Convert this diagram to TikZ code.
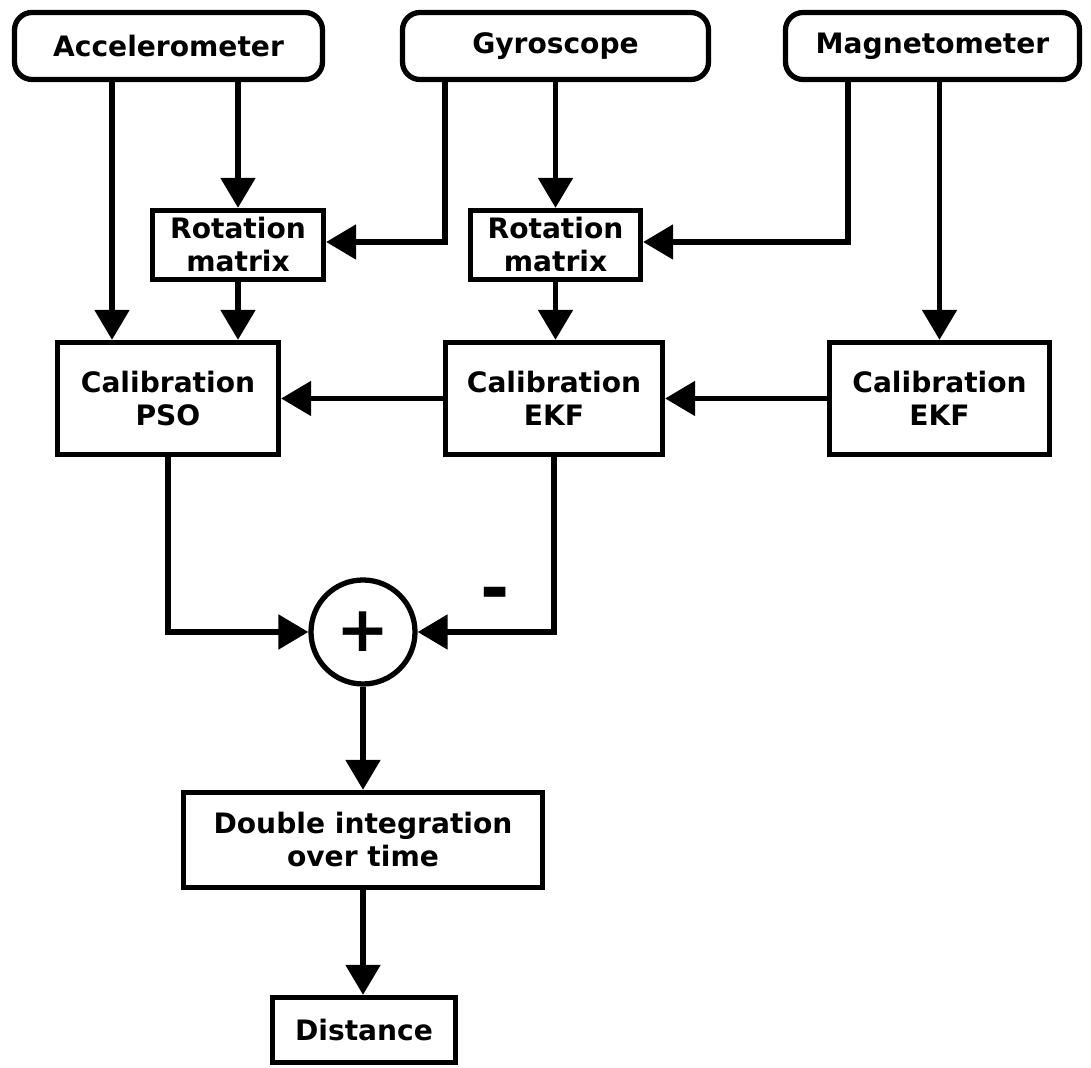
\documentclass[tikz,border=0pt]{standalone}
\usepackage{fontspec}
\setmainfont{DejaVu Sans}
\usetikzlibrary{positioning, arrows.meta, calc}

\tikzset{
  sensor/.style={draw, line width=1.5pt, rounded corners=5pt, inner sep=0pt,
    minimum height=0.67cm, font=\fontsize{8}{9.4}\selectfont\bfseries, align=center},
  block/.style={draw, line width=1.5pt, inner sep=0pt,
    font=\fontsize{8}{9.4}\selectfont\bfseries, align=center},
  flow/.style={line width=1.5pt, -{Triangle[length=0.3cm, width=0.34cm]}}
}

\begin{document}
\begin{tikzpicture}
    \useasboundingbox (0,0) rectangle (10.91,10.68);

    % Sensors
    \node[sensor, minimum width=3.08cm] (acc) at (1.685,10.22) {Accelerometer};
    \node[sensor, minimum width=3.06cm] (gyr) at (5.555,10.22) {Gyroscope};
    \node[sensor, minimum width=2.94cm] (mag) at (9.325,10.22) {Magnetometer};

    % Rotation matrices
    \node[block, minimum width=1.71cm, minimum height=0.69cm] (rot1) at (2.38,8.23) {Rotation\\matrix};
    \node[block, minimum width=1.70cm, minimum height=0.69cm] (rot2) at (5.555,8.23) {Rotation\\matrix};

    % Calibration
    \node[block, minimum width=2.21cm, minimum height=1.12cm] (pso) at (1.68,6.695) {Calibration\\PSO};
    \node[block, minimum width=2.17cm, minimum height=1.12cm] (ekf1) at (5.54,6.695) {Calibration\\EKF};
    \node[block, minimum width=2.20cm, minimum height=1.12cm] (ekf2) at (9.395,6.695) {Calibration\\EKF};

    % Sum, integration, output
    \node[draw, circle, line width=1.5pt, minimum size=1.04cm, inner sep=0pt,
      font=\fontsize{18}{20}\selectfont\bfseries] (sum) at (3.63,4.36) {+};
    \node[font=\fontsize{20}{22}\selectfont\bfseries] (minus) at (4.95,4.68) {-};
    \node[block, minimum width=3.59cm, minimum height=0.95cm] (dbl) at (3.63,2.28) {Double integration\\over time};
    \node[block, minimum width=1.83cm, minimum height=0.65cm] (dist) at (3.64,0.38) {Distance};

    % Connections
    \draw[flow] ([xshift=-0.565cm]acc.south) -- ([xshift=-0.565cm]acc.south |- pso.north);
    \draw[flow] (acc.south -| rot1.north) -- (rot1.north);
    \draw[flow] ([xshift=-1.105cm]gyr.south) |- ([yshift=0.03cm]rot1.east);
    \draw[flow] (gyr.south) -- (rot2.north);
    \draw[flow] ([xshift=-0.845cm]mag.south) |- ([yshift=0.03cm]rot2.east);
    \draw[flow] (mag.south -| ekf2.north) -- (ekf2.north);
    \draw[flow] (rot1.south) -- (rot1.south |- pso.north);
    \draw[flow] (rot2.south) -- (rot2.south |- ekf1.north);
    \draw[flow] (ekf2.west) -- (ekf1.east);
    \draw[flow] (ekf1.west) -- (pso.east);
    \draw[flow] (pso.south) |- (sum.west);
    \draw[flow] (ekf1.south) |- (sum.east);
    \draw[flow] (sum.south) -- (sum.south |- dbl.north);
    \draw[flow] (dbl.south) -- (dbl.south |- dist.north);
\end{tikzpicture}
\end{document}
